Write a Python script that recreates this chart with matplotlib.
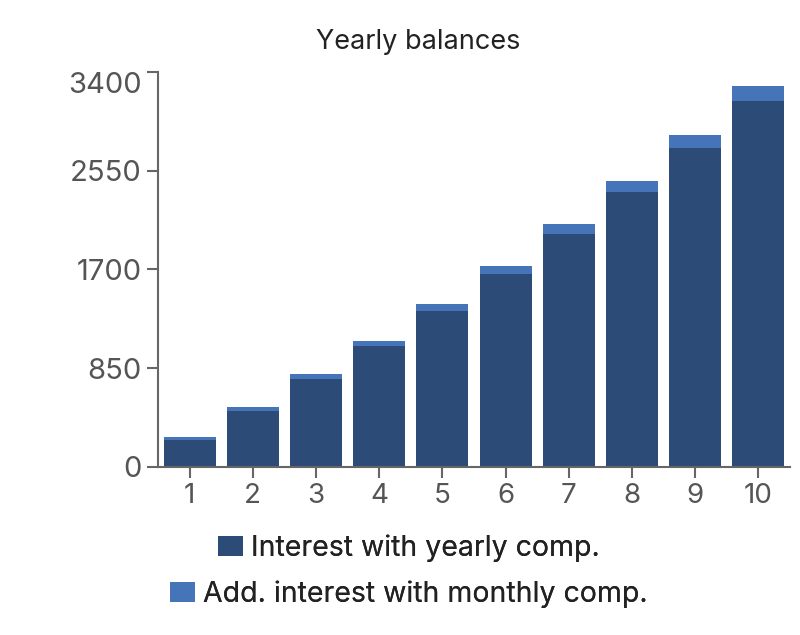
import matplotlib
matplotlib.use("Agg")
import matplotlib.pyplot as plt
from matplotlib.patches import Patch

plt.rcParams['font.family'] = ['Inter', 'DejaVu Sans']

years = [1, 2, 3, 4, 5, 6, 7, 8, 9, 10]
yearly_comp = [230, 482, 752, 1041, 1342, 1664, 2002, 2363, 2744, 3152]
monthly_extra = [23, 34, 43, 46, 60, 69, 86, 97, 116, 129]
y_ticks = [0, 850, 1700, 2550, 3400]
series_names = ["Interest with yearly comp.", "Add. interest with monthly comp."]
title = "Yearly balances"

dark = "#2d4b77"
light = "#4674b8"
axis_col = "#666666"
text_col = "#555555"

fig = plt.figure(figsize=(8, 6.35), dpi=100)
ax = fig.add_axes([158/800, 1-466.7/635, (790-158)/800, (466.7-72)/635])

ax.bar(years, yearly_comp, width=0.82, color=dark, label=series_names[0])
ax.bar(years, monthly_extra, width=0.82, bottom=yearly_comp, color=light, label=series_names[1])

ax.set_xlim(0.5, 10.5)
ax.set_ylim(0, 3400)
ax.set_xticks(years)
ax.set_xticklabels([str(y) for y in years])
ax.set_yticks(y_ticks)
ax.set_yticklabels([str(v) for v in y_ticks])

for s in ['top', 'right']:
    ax.spines[s].set_visible(False)
for s in ['left', 'bottom']:
    ax.spines[s].set_color(axis_col)
    ax.spines[s].set_linewidth(1.5)
ax.tick_params(axis='both', colors=axis_col, length=8, width=1.5, labelsize=20, labelcolor=text_col, pad=4)
ax.tick_params(axis='y', labelsize=21)
fig.canvas.draw()
ax.get_yticklabels()[-1].set_verticalalignment('top')

fig.text(418/800, 1-42/635, title, ha='center', va='center', fontsize=19.5, color="#222222")

h1 = Patch(facecolor=dark, edgecolor='none')
h2 = Patch(facecolor=light, edgecolor='none')
for h, name, yc in [(h1, series_names[0], 548), (h2, series_names[1], 594)]:
    lg = fig.legend(handles=[h], labels=[name], loc='center', bbox_to_anchor=(409/800, 1-yc/635),
                    frameon=False, fontsize=20.5, handlelength=0.88, handleheight=0.72,
                    handletextpad=0.28, borderpad=0, labelcolor="#222222")
    fig.add_artist(lg)

fig.savefig("out.png", dpi=100, facecolor="white")
